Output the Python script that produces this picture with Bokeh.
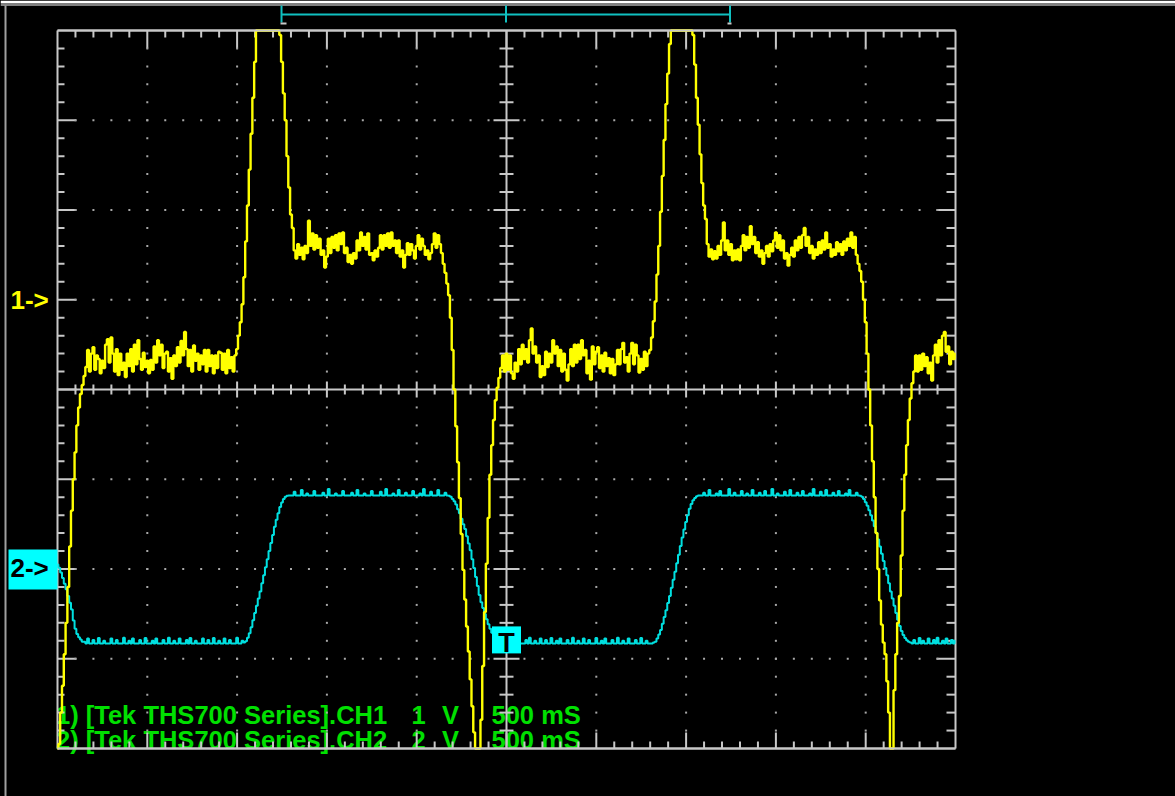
import numpy as np
from bokeh.plotting import figure
from bokeh.models import Range1d
from bokeh.core.properties import value
from bokeh.embed import file_html
from bokeh.resources import INLINE

# ---------------- acquisition settings (read from the capture) ----------------
SAMPLE_DT = 0.01           # s between samples
RECORD_START = -2.50       # s at left edge of screen
TIME_PER_DIV = 0.5         # 500 mS / div
CH1_VOLTS_PER_DIV = 1.0
CH2_VOLTS_PER_DIV = 2.0
CH1_OFFSET_DIV = 1.0       # "1->" ground marker
CH2_OFFSET_DIV = -2.0      # "2->" ground marker
TRIGGER_TIME = 0.0
TRIGGER_LEVEL_V = -1.58    # on CH2

# ---------------- CH1 (yellow) samples, volts ----------------
ch1_rise_in = [-5.2, -4.95, -4.6, -4.3, -3.95, -3.6, -3.2, -2.75, -2.35, -2.0,
               -1.7, -1.4, -1.2, -1.05, -0.95, -0.85, -0.75]
ch1_low_1 = [-0.56, -0.80, -0.60,
             -0.53, -0.78, -0.62, -0.66, -0.82, -0.68, -0.76, -0.50, -0.44, -0.70,
             -0.42, -0.60, -0.80, -0.55, -0.84, -0.60, -0.78, -0.70, -0.86, -0.60,
             -0.74, -0.55, -0.80, -0.50, -0.72, -0.45, -0.66, -0.78, -0.59, -0.75,
             -0.68, -0.82, -0.67, -0.78, -0.52, -0.70, -0.45, -0.62, -0.50, -0.76,
             -0.60, -0.58, -0.80, -0.65, -0.88, -0.62, -0.74, -0.53, -0.70, -0.46,
             -0.62, -0.36, -0.55, -0.74, -0.56, -0.80, -0.51, -0.68, -0.60, -0.78,
             -0.62, -0.72, -0.56, -0.80, -0.56, -0.74, -0.62, -0.82, -0.62, -0.76,
             -0.58, -0.59, -0.78, -0.60, -0.82, -0.56, -0.76, -0.64, -0.80, -0.62]
ch1_pulse_1 = [-0.55, -0.40, -0.25, -0.05, 0.25, 0.65, 1.05, 1.45, 1.85, 2.25,
               2.65, 3.05, 3.3, 3.5, 3.6, 3.7, 3.7, 3.7, 3.6, 3.5,
               3.4, 3.3, 3.2, 3.1, 2.95, 2.65, 2.3, 2.0, 1.6, 1.25,
               0.95, 0.80, 0.55]
ch1_high_1 = [0.46, 0.62, 0.50, 0.58, 0.45, 0.60, 0.52,
              0.88, 0.60, 0.74, 0.56, 0.72, 0.58, 0.68, 0.50, 0.55, 0.36,
              0.48, 0.68, 0.52, 0.70, 0.58, 0.72, 0.55, 0.74, 0.62, 0.75,
              0.52, 0.58, 0.42, 0.50, 0.40, 0.52, 0.46, 0.66, 0.55, 0.75,
              0.60, 0.70, 0.56, 0.74, 0.50, 0.52, 0.44, 0.55, 0.48, 0.58,
              0.72, 0.56, 0.72, 0.60, 0.74, 0.58, 0.75, 0.60, 0.66, 0.52,
              0.66, 0.48, 0.55, 0.36, 0.50, 0.63, 0.50, 0.62, 0.55, 0.46,
              0.60, 0.72, 0.56, 0.68, 0.60, 0.50, 0.55, 0.45, 0.52, 0.62,
              0.74, 0.58, 0.72, 0.62]
ch1_dip_1 = [0.52, 0.40, 0.30, 0.18, 0.05, -0.20,
             -0.56, -1.00, -1.41, -1.81, -2.21, -2.61, -3.01, -3.34, -3.64, -3.92,
             -4.23, -4.53, -4.82, -5.07, -5.30, -5.20, -4.68, -4.08, -3.48, -2.94,
             -2.43, -1.95, -1.62, -1.34, -1.12, -0.98, -0.87, -0.76]
ch1_low_2 = [-0.62, -0.80,
             -0.60, -0.78, -0.62, -0.82, -0.88, -0.70, -0.80, -0.55, -0.72, -0.50,
             -0.66, -0.55, -0.70, -0.45, -0.32, -0.60, -0.52, -0.70, -0.62, -0.86,
             -0.74, -0.84, -0.58, -0.75, -0.60, -0.70, -0.45, -0.60, -0.52, -0.74,
             -0.56, -0.80, -0.60, -0.78, -0.90, -0.72, -0.55, -0.74, -0.50, -0.70,
             -0.50, -0.66, -0.45, -0.62, -0.56, -0.82, -0.68, -0.89, -0.52, -0.72,
             -0.58, -0.53, -0.76, -0.62, -0.80, -0.59, -0.74, -0.65, -0.82, -0.66,
             -0.84, -0.72, -0.56, -0.72, -0.55, -0.48, -0.70, -0.64, -0.80, -0.60,
             -0.48, -0.72, -0.50, -0.62, -0.81, -0.66, -0.78, -0.58, -0.74, -0.60]
ch1_pulse_2 = [-0.56, -0.42, -0.24, -0.02, 0.28, 0.60, 0.98, 1.38, 1.78, 2.18,
               2.52, 2.85, 3.10, 3.35, 3.5, 3.6, 3.7, 3.7, 3.7, 3.6,
               3.5, 3.4, 3.25, 3.10, 2.95, 2.62, 2.25, 1.95, 1.62, 1.30,
               1.05, 0.90, 0.62]
ch1_high_2 = [0.48, 0.56, 0.45, 0.54, 0.46, 0.60, 0.50,
              0.66, 0.86, 0.55, 0.66, 0.50, 0.62, 0.44, 0.55, 0.45, 0.56,
              0.44, 0.60, 0.72, 0.55, 0.70, 0.58, 0.82, 0.62, 0.70, 0.52,
              0.64, 0.48, 0.55, 0.40, 0.52, 0.60, 0.48, 0.62, 0.54, 0.66,
              0.75, 0.58, 0.72, 0.55, 0.66, 0.46, 0.52, 0.38, 0.50, 0.58,
              0.48, 0.66, 0.55, 0.70, 0.58, 0.72, 0.80, 0.60, 0.70, 0.52,
              0.60, 0.46, 0.56, 0.50, 0.64, 0.52, 0.66, 0.56, 0.75, 0.58,
              0.62, 0.48, 0.56, 0.50, 0.64, 0.54, 0.62, 0.50, 0.65, 0.55,
              0.68, 0.60, 0.75, 0.58, 0.70]
ch1_dip_2 = [0.50, 0.40, 0.32, 0.20, 0.00,
             -0.25, -0.60, -1.00, -1.40, -1.80, -2.20, -2.60, -3.00, -3.35, -3.62,
             -3.82, -3.95, -4.25, -4.60, -5.00, -5.20, -4.35, -3.95, -3.60, -3.30,
             -2.85, -2.35, -1.95, -1.62, -1.34, -1.10, -0.93, -0.80]
ch1_low_3 = [-0.62, -0.80,
             -0.62, -0.78, -0.60, -0.74, -0.64, -0.82, -0.70, -0.90, -0.62, -0.50,
             -0.70, -0.45, -0.62, -0.40, -0.36, -0.58, -0.52, -0.72, -0.58, -0.66,
             -0.60]

# ---------------- CH2 (cyan) samples, volts ----------------
ch2_fall_in = [0.10, 0.03, -0.08, -0.20, -0.33, -0.45, -0.60, -0.75, -0.90, -1.15,
               -1.33, -1.45, -1.52, -1.57, -1.62]
ch2_low_1 = [-1.62, -1.66, -1.55, -1.66, -1.66, -1.58, -1.66, -1.66, -1.54, -1.66,
             -1.66, -1.60, -1.66, -1.66, -1.66, -1.55, -1.66, -1.66, -1.58, -1.66,
             -1.66, -1.66, -1.53, -1.66, -1.66, -1.60, -1.66, -1.55, -1.66, -1.66,
             -1.66, -1.58, -1.66, -1.66, -1.54, -1.66, -1.66, -1.66, -1.60, -1.66,
             -1.55, -1.66, -1.66, -1.66, -1.58, -1.66, -1.66, -1.53, -1.66, -1.66,
             -1.60, -1.66, -1.66, -1.55, -1.66, -1.66, -1.66, -1.58, -1.66, -1.54,
             -1.66, -1.66, -1.60, -1.66, -1.66, -1.66, -1.55, -1.66, -1.66, -1.58,
             -1.66, -1.66, -1.54, -1.66, -1.66, -1.60, -1.66, -1.66, -1.55, -1.66,
             -1.66, -1.58, -1.66, -1.66, -1.66, -1.53, -1.66, -1.66, -1.60, -1.64]
ch2_rise_1 = [-1.61, -1.53, -1.43, -1.30, -1.14, -0.98, -0.82, -0.66, -0.50, -0.32,
              -0.14, 0.04, 0.22, 0.40, 0.58, 0.76, 0.94, 1.10, 1.24, 1.38,
              1.48, 1.56, 1.61, 1.63, 1.64]
ch2_high_1 = [1.64, 1.64, 1.72, 1.64, 1.64, 1.64, 1.76, 1.64, 1.64, 1.68,
              1.64, 1.64, 1.64, 1.74, 1.64, 1.64, 1.64, 1.64, 1.70, 1.64,
              1.64, 1.78, 1.64, 1.64, 1.64, 1.68, 1.64, 1.64, 1.64, 1.74,
              1.64, 1.64, 1.64, 1.64, 1.70, 1.64, 1.64, 1.76, 1.64, 1.64,
              1.64, 1.68, 1.64, 1.64, 1.64, 1.74, 1.64, 1.64, 1.64, 1.64,
              1.72, 1.64, 1.64, 1.78, 1.64, 1.64, 1.64, 1.68, 1.64, 1.64,
              1.76, 1.64, 1.64, 1.64, 1.70, 1.64, 1.64, 1.64, 1.74, 1.64,
              1.64, 1.64, 1.68, 1.64, 1.78, 1.64, 1.64, 1.64, 1.72, 1.64,
              1.64, 1.64, 1.76, 1.64, 1.64, 1.64, 1.70, 1.64, 1.63]
ch2_fall_1 = [1.61, 1.56, 1.51, 1.44, 1.33, 1.24, 1.12, 1.00, 0.89, 0.73,
              0.57, 0.42, 0.22, 0.02, -0.18, -0.38, -0.58, -0.74, -0.87, -1.00,
              -1.12, -1.23, -1.33, -1.42, -1.50, -1.56, -1.61, -1.64]
ch2_low_2 = [-1.66, -1.66, -1.58, -1.66, -1.54, -1.66, -1.66, -1.60, -1.66, -1.66,
             -1.55, -1.66, -1.66, -1.66, -1.58, -1.66, -1.53, -1.66, -1.66, -1.60,
             -1.66, -1.66, -1.55, -1.66, -1.66, -1.58, -1.66, -1.66, -1.54, -1.66,
             -1.66, -1.60, -1.66, -1.55, -1.66, -1.66, -1.66, -1.58, -1.66, -1.66,
             -1.53, -1.66, -1.66, -1.60, -1.66, -1.66, -1.55, -1.66, -1.66, -1.58,
             -1.66, -1.66, -1.66, -1.54, -1.66, -1.66, -1.60, -1.66, -1.55, -1.66,
             -1.66, -1.66, -1.58, -1.66, -1.66, -1.53, -1.66, -1.66, -1.60, -1.66,
             -1.66, -1.55, -1.66, -1.66, -1.66, -1.58, -1.66, -1.66, -1.54, -1.66,
             -1.66, -1.60, -1.66, -1.66, -1.66, -1.64]
ch2_rise_2 = [-1.62, -1.55, -1.46, -1.36, -1.22, -1.07, -0.92, -0.76, -0.60, -0.42,
              -0.24, -0.06, 0.13, 0.32, 0.51, 0.70, 0.88, 1.05, 1.20, 1.34,
              1.45, 1.53, 1.58, 1.62, 1.64]
ch2_high_2 = [1.64, 1.64, 1.70, 1.64, 1.64, 1.76, 1.64, 1.64, 1.64, 1.68,
              1.64, 1.74, 1.64, 1.64, 1.64, 1.64, 1.78, 1.64, 1.64, 1.70,
              1.64, 1.64, 1.64, 1.74, 1.64, 1.64, 1.68, 1.64, 1.64, 1.76,
              1.64, 1.64, 1.64, 1.70, 1.64, 1.64, 1.74, 1.64, 1.64, 1.64,
              1.78, 1.64, 1.64, 1.68, 1.64, 1.64, 1.64, 1.72, 1.64, 1.64,
              1.76, 1.64, 1.64, 1.64, 1.70, 1.64, 1.64, 1.74, 1.64, 1.64,
              1.64, 1.68, 1.64, 1.78, 1.64, 1.64, 1.64, 1.72, 1.64, 1.64,
              1.76, 1.64, 1.64, 1.64, 1.70, 1.64, 1.64, 1.74, 1.64, 1.64,
              1.64, 1.68, 1.64, 1.76, 1.64, 1.64, 1.64, 1.70, 1.64, 1.63]
ch2_fall_2 = [1.61, 1.56, 1.49, 1.41, 1.31, 1.20, 1.08, 0.95, 0.81, 0.66,
              0.50, 0.34, 0.18, 0.02, -0.14, -0.32, -0.50, -0.66, -0.82, -0.98,
              -1.13, -1.27, -1.38, -1.47, -1.54, -1.59, -1.62, -1.64]
ch2_low_3 = [-1.66, -1.58, -1.66, -1.66, -1.54, -1.66, -1.60, -1.66, -1.66, -1.55,
             -1.66, -1.66, -1.58, -1.66, -1.53, -1.66, -1.66, -1.60, -1.66, -1.55,
             -1.66, -1.66, -1.58, -1.66, -1.60]

# ---------------- screen texts ----------------
readout_sources = ["1) [Tek THS700 Series].CH1", "2) [Tek THS700 Series].CH2"]
readout_scales = ["1", "2"]
readout_units = ["V", "V"]
readout_times = ["500 mS", "500 mS"]
ch_marker_labels = ["1->", "2->"]
trigger_label = "T"

ch1_v = (ch1_rise_in + ch1_low_1 + ch1_pulse_1 + ch1_high_1 + ch1_dip_1 +
         ch1_low_2 + ch1_pulse_2 + ch1_high_2 + ch1_dip_2 + ch1_low_3)
ch2_v = (ch2_fall_in + ch2_low_1 + ch2_rise_1 + ch2_high_1 + ch2_fall_1 +
         ch2_low_2 + ch2_rise_2 + ch2_high_2 + ch2_fall_2 + ch2_low_3)

# ---------------- screen geometry ----------------
W, H = 1175, 796
GL, GR, GT, GB = 57.0, 955.0, 30.0, 748.0   # graticule edges, px
NXDIV, NYDIV = 10, 8
HALF_T = NXDIV * TIME_PER_DIV / 2.0
HALF_Y = NYDIV / 2.0
ppx = (GR - GL) / (NXDIV * TIME_PER_DIV)    # px per second
ppy = (GB - GT) / NYDIV                     # px per division
x0 = -HALF_T - GL / ppx
x1 = x0 + W / ppx
y1 = HALF_Y + GT / ppy
y0 = y1 - H / ppy
TS = 9.0   # text baseline correction, px


def X(px):
    return x0 + px / ppx


def Y(py):
    return y1 - py / ppy


def dx(n):
    return n / ppx


def dy(n):
    return n / ppy


FRAME = "#C8C8C8"
DOT = "#A8A8A8"
YEL = "#FFFF00"
CYAN_TRACE = "#00E0E0"
CYAN_BOX = "#00FFFF"
CYAN_BAR = "#10C0C0"
GREEN = "#00E000"
RFONT = value("Liberation Sans")

p = figure(width=W, height=H, x_range=Range1d(x0, x1), y_range=Range1d(y0, y1),
           output_backend="svg", toolbar_location=None, min_border=0,
           x_axis_type=None, y_axis_type=None,
           background_fill_color="#000000", border_fill_color="#000000",
           outline_line_color=None)

# window border
p.quad(left=[X(0)], right=[X(W)], top=[Y(0)], bottom=[Y(3)], color="#FFFFFF", line_width=0)
p.quad(left=[X(0)], right=[X(W)], top=[Y(4)], bottom=[Y(5)], color="#FFFFFF", line_width=0)
p.quad(left=[X(4)], right=[X(6)], top=[Y(5)], bottom=[Y(H)], color="#A0A0A0", line_width=0)

# readout texts (drawn first, graticule overlays them)
for k in range(2):
    base = Y(723 + 25 * k - TS)
    for xs, txt in ((55.5, readout_sources[k]), (411, readout_scales[k]),
                    (441.5, readout_units[k]), (491, readout_times[k])):
        p.text(x=[X(xs)], y=[base], text=[txt], text_font=RFONT, text_font_style="bold",
               text_font_size="25.5px", text_color=GREEN, text_baseline="alphabetic",
               text_align="left")

# ---------------- graticule ----------------
sx0, sy0, sx1, sy1 = [], [], [], []


def seg(a, b, c, d):
    sx0.append(a); sy0.append(b); sx1.append(c); sy1.append(d)


seg(-HALF_T, -HALF_Y, -HALF_T, HALF_Y)
seg(HALF_T, -HALF_Y, HALF_T, HALF_Y)
seg(-HALF_T, HALF_Y, HALF_T, HALF_Y)
seg(-HALF_T, -HALF_Y, HALF_T, -HALF_Y)
seg(0, -HALF_Y, 0, HALF_Y)
seg(-HALF_T, 0, HALF_T, 0)

minor_t = TIME_PER_DIV / 5.0
for k in range(1, NXDIV * 5):
    t = -HALF_T + k * minor_t
    major = (k % 5 == 0)
    seg(t, HALF_Y, t, HALF_Y - dy(18 if major else 7))
    seg(t, -HALF_Y, t, -HALF_Y + dy(16 if major else 7))
    if k != NXDIV * 5 // 2:
        h = 8 if major else 5
        seg(t, -dy(h), t, dy(h))
for k in range(1, NYDIV * 5):
    yv = -HALF_Y + k * 0.2
    major = (k % 5 == 0)
    seg(-HALF_T, yv, -HALF_T + dx(19 if major else 7), yv)
    seg(HALF_T, yv, HALF_T - dx(19 if major else 9), yv)
    if k != NYDIV * 5 // 2:
        h = 13 if major else 7
        seg(-dx(h), yv, dx(h), yv)

p.segment(x0=sx0, y0=sy0, x1=sx1, y1=sy1, line_color=FRAME, line_width=2)

dxs, dys = [], []
for j in range(1, NXDIV):
    if j == NXDIV // 2:
        continue
    t = -HALF_T + j * TIME_PER_DIV
    for k in range(1, NYDIV * 5):
        if k == NYDIV * 5 // 2:
            continue
        dxs.append(t); dys.append(-HALF_Y + k * 0.2)
for j in range(1, NYDIV):
    if j == NYDIV // 2:
        continue
    yv = -HALF_Y + j
    for k in range(1, NXDIV * 5):
        if k == NXDIV * 5 // 2:
            continue
        dxs.append(-HALF_T + k * minor_t); dys.append(yv)
p.scatter(dxs, dys, marker="square", size=2, fill_color=DOT, line_color=None)

# ---------------- traces ----------------
t1 = RECORD_START + SAMPLE_DT * np.arange(len(ch1_v))
t2 = RECORD_START + SAMPLE_DT * np.arange(len(ch2_v))
y_ch1 = np.clip(np.array(ch1_v) / CH1_VOLTS_PER_DIV + CH1_OFFSET_DIV, -HALF_Y, HALF_Y)
y_ch2 = np.clip(np.array(ch2_v) / CH2_VOLTS_PER_DIV + CH2_OFFSET_DIV, -HALF_Y, HALF_Y)

p.step(t2, y_ch2, mode="center", line_color=CYAN_TRACE, line_width=2)
p.step(t1, y_ch1, mode="center", line_color=YEL, line_width=2.4)

p.segment(x0=[-HALF_T, -HALF_T], y0=[HALF_Y, -HALF_Y], x1=[HALF_T, HALF_T], y1=[HALF_Y, -HALF_Y],
          line_color=FRAME, line_width=2)

# ---------------- markers ----------------
p.text(x=[X(10)], y=[CH1_OFFSET_DIV - dy(9.5 - TS)], text=[ch_marker_labels[0]],
       text_font=RFONT, text_font_style="bold", text_font_size="26px",
       text_color=YEL, text_baseline="alphabetic", text_align="left")

p.quad(left=[X(8)], right=[-HALF_T], top=[CH2_OFFSET_DIV + dy(19.5)], bottom=[CH2_OFFSET_DIV - dy(20.5)],
       fill_color=CYAN_BOX, line_color=None)
p.text(x=[X(10)], y=[CH2_OFFSET_DIV - dy(8 - TS)], text=[ch_marker_labels[1]],
       text_font=RFONT, text_font_style="bold", text_font_size="26px",
       text_color="#000000", text_baseline="alphabetic", text_align="left")

trig_div = TRIGGER_LEVEL_V / CH2_VOLTS_PER_DIV + CH2_OFFSET_DIV
p.quad(left=[TRIGGER_TIME - dx(14.5)], right=[TRIGGER_TIME + dx(14.5)],
       top=[trig_div + dy(13.5)], bottom=[trig_div - dy(13.5)], fill_color=CYAN_BOX, line_color=None)
p.text(x=[TRIGGER_TIME], y=[trig_div - dy(12 - TS)], text=[trigger_label],
       text_font=RFONT, text_font_style="bold", text_font_size="27px",
       text_color="#000000", text_baseline="alphabetic", text_align="center")

# record window indicator above the graticule
p.segment(x0=[X(281), X(281), X(729.5), X(505.5)], y0=[Y(14), Y(5), Y(5), Y(5)],
          x1=[X(729.5), X(281), X(729.5), X(505.5)], y1=[Y(14), Y(22), Y(22), Y(22)],
          line_color=CYAN_BAR, line_width=2)
p.segment(x0=[X(280), X(727)], y0=[Y(23), Y(23)], x1=[X(286), X(731)], y1=[Y(23), Y(23)],
          line_color=FRAME, line_width=2)

open("out.html", "w").write(file_html(p, INLINE, title="THS700").replace(
    "</head>", "<style>html,body{margin:0;padding:0;background:#000;overflow:hidden}</style></head>", 1))
